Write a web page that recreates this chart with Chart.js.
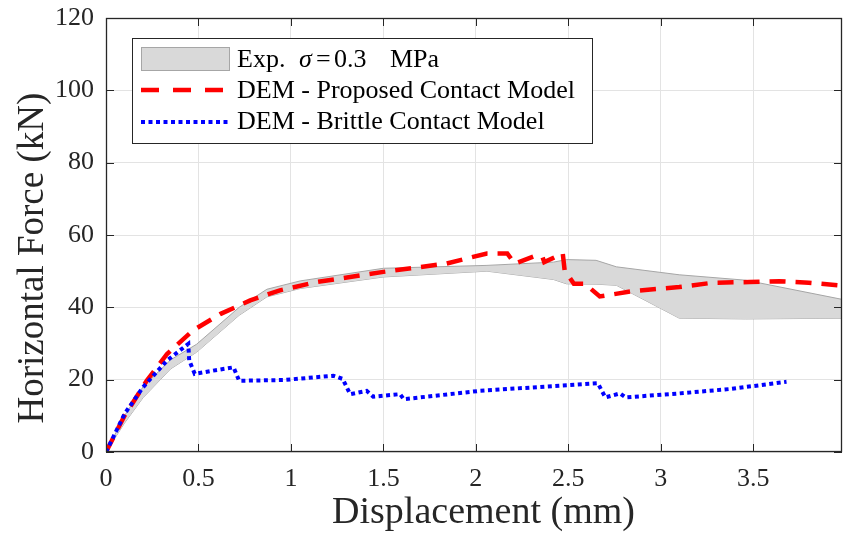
<!DOCTYPE html>
<html>
<head>
<meta charset="utf-8">
<script src="https://cdn.jsdelivr.net/npm/chart.js@4"></script>
<style>
  html,body{margin:0;padding:0;background:#fff;}
  #wrap{width:843px;height:536px;}
</style>
</head>
<body>
<div id="wrap"><canvas id="c" width="843" height="536"></canvas></div>
<script>
// experimental envelope (grey band)
const expX     = [0, 0.1, 0.2, 0.35, 0.49, 0.72, 0.87, 1.05, 1.5, 2.06, 2.42, 2.49, 2.65, 2.76, 3.1, 3.46, 4.0];
const expUpper = [0, 10, 18, 25.5, 29.8, 40, 45, 47.3, 50.8, 51.6, 52.5, 53.2, 53, 51.2, 49, 47.5, 42];
const expLower = [0, 8, 15, 23, 27.6, 37.8, 42.9, 45.2, 48.4, 50, 47.7, 46.5, 46.4, 46.1, 37, 36.8, 37];

// DEM - proposed contact model
const propX = [0, 0.1, 0.22, 0.33, 0.47, 0.62, 0.78, 0.94, 1.14, 1.32, 1.5, 1.84, 2.06, 2.17, 2.21, 2.31, 2.36, 2.37, 2.47, 2.48, 2.53, 2.59, 2.67, 2.85, 3.1, 3.28, 3.48, 3.64, 3.8, 4.0];
const propY = [0, 10, 19.7, 27.1, 33.6, 38.2, 41.9, 44.7, 47, 48.4, 49.8, 52.1, 54.9, 54.9, 52.1, 54, 54, 52.5, 54.9, 50.3, 46.5, 46.5, 43, 44.5, 45.6, 46.8, 47, 47.2, 46.8, 45.9];

// DEM - brittle contact model
const britX = [0, 0.1, 0.2, 0.33, 0.445, 0.45, 0.48, 0.58, 0.69, 0.72, 0.96, 1.23, 1.28, 1.32, 1.41, 1.445, 1.59, 1.61, 2.02, 2.38, 2.66, 2.70, 2.78, 2.81, 3.1, 3.37, 3.68];
const britY = [0, 10.5, 17.9, 25.3, 29.9, 25.3, 21.6, 22.5, 23.4, 19.7, 19.9, 21.1, 20.2, 16, 16.9, 15.3, 16, 14.6, 16.9, 18.1, 19, 15.1, 16.2, 15.1, 16.2, 17.4, 19.4];

const xTicks = [0, 0.5, 1, 1.5, 2, 2.5, 3, 3.5];
const yTicks = [0, 20, 40, 60, 80, 100, 120];

const pts = (xs, ys) => xs.map((x, i) => ({x, y: ys[i]}));
const SERIF = '"Liberation Serif", "Times New Roman", serif';
const AX = '#262626';

// box around plot + inward ticks, like matlab
const framePlugin = {
  id: 'frame',
  afterDraw(chart){
    const {ctx, chartArea: a, scales} = chart;
    ctx.save();
    ctx.strokeStyle = AX;
    ctx.lineWidth = 1;
    ctx.beginPath();
    xTicks.forEach(v => {
      const p = Math.round(scales.x.getPixelForValue(v)) + 0.5;
      ctx.moveTo(p, a.bottom); ctx.lineTo(p, a.bottom - 8);
      ctx.moveTo(p, a.top); ctx.lineTo(p, a.top + 8);
    });
    yTicks.forEach(v => {
      const p = Math.round(scales.y.getPixelForValue(v)) + 0.5;
      ctx.moveTo(a.left, p); ctx.lineTo(a.left + 8, p);
      ctx.moveTo(a.right, p); ctx.lineTo(a.right - 8, p);
    });
    ctx.stroke();
    ctx.lineWidth = 1.3;
    ctx.strokeRect(a.left + 0.5, a.top + 0.5, a.right - a.left - 1, a.bottom - a.top - 1);
    ctx.restore();
  }
};

// legend box drawn by hand so the line samples look right
const legendPlugin = {
  id: 'mlegend',
  afterDraw(chart){
    const ctx = chart.ctx;
    const bx = 132, by = 38, bw = 460, bh = 105;
    ctx.save();
    ctx.fillStyle = '#fff';
    ctx.fillRect(bx, by, bw, bh);
    ctx.strokeStyle = AX;
    ctx.lineWidth = 1;
    ctx.strokeRect(bx + 0.5, by + 0.5, bw, bh);

    ctx.fillStyle = '#d9d9d9';
    ctx.strokeStyle = '#a6a6a6';
    ctx.fillRect(141, 47, 88, 23);
    ctx.strokeRect(141.5, 47.5, 88, 23);

    ctx.lineWidth = 4.5;
    ctx.strokeStyle = '#ff0000';
    ctx.setLineDash([18, 14]);
    ctx.beginPath(); ctx.moveTo(141, 90); ctx.lineTo(229, 90); ctx.stroke();

    ctx.lineWidth = 4;
    ctx.strokeStyle = '#0000ff';
    ctx.setLineDash([4, 3.5]);
    ctx.beginPath(); ctx.moveTo(141, 122); ctx.lineTo(229, 122); ctx.stroke();
    ctx.setLineDash([]);

    ctx.fillStyle = '#000';
    ctx.textBaseline = 'middle';
    ctx.font = '26px ' + SERIF;
    ctx.fillText('Exp.', 237, 60);
    ctx.font = 'italic 26px ' + SERIF;
    ctx.fillText('\u03C3', 299, 60);
    ctx.font = '26px ' + SERIF;
    ctx.fillText('=', 316, 60);
    ctx.fillText('0.3', 334, 60);
    ctx.fillText('MPa', 390, 60);
    ctx.fillText('DEM - Proposed Contact Model', 237, 91);
    ctx.fillText('DEM - Brittle Contact Model', 237, 122);
    ctx.restore();
  }
};

const ctx = document.getElementById('c').getContext('2d');
new Chart(ctx, {
  type: 'line',
  data: {
    datasets: [
      {label:'Exp. upper', data: pts(expX, expUpper), fill: 1, backgroundColor:'#d9d9d9', borderColor:'#a6a6a6', borderWidth:1, pointRadius:0, order:3},
      {label:'Exp. lower', data: pts(expX, expLower), fill: false, borderColor:'#a6a6a6', borderWidth:1, pointRadius:0, order:4},
      {label:'DEM - Proposed Contact Model', data: pts(propX, propY), borderColor:'#ff0000', borderWidth:4.5, borderDash:[16,10], pointRadius:0, fill:false, order:1},
      {label:'DEM - Brittle Contact Model', data: pts(britX, britY), borderColor:'#0000ff', borderWidth:4, borderDash:[4,3.5], pointRadius:0, fill:false, order:0}
    ]
  },
  options: {
    responsive: false,
    animation: false,
    layout: {padding: {top: 18, right: 1, left: 0, bottom: 0}},
    plugins: {legend: {display: false}, tooltip: {enabled: false}},
    elements: {line: {tension: 0}},
    scales: {
      x: {
        type: 'linear', min: 0, max: 3.98,
        afterBuildTicks: s => { s.ticks = xTicks.map(v => ({value: v})); },
        afterFit: s => { s.height = 84; s.paddingLeft = 0; s.paddingRight = 0; },
        grid: {color: '#e3e3e3', drawTicks: false},
        border: {display: false},
        ticks: {color: AX, font: {family: SERIF, size: 26}, padding: 12, maxRotation: 0,
          callback: v => String(v)},
        title: {display: true, text: '  Displacement (mm)', color: AX, font: {family: SERIF, size: 38}, padding: {top: 0, bottom: 0}}
      },
      y: {
        min: 0, max: 120,
        afterBuildTicks: s => { s.ticks = yTicks.map(v => ({value: v})); },
        afterFit: s => { s.width = 106; s.paddingTop = 0; s.paddingBottom = 0; },
        grid: {color: '#e3e3e3', drawTicks: false},
        border: {display: false},
        ticks: {color: AX, font: {family: SERIF, size: 26}, padding: 12},
        title: {display: true, text: 'Horizontal Force (kN)     ', color: AX, font: {family: SERIF, size: 37}, padding: {top: 11, bottom: 0}}
      }
    }
  },
  plugins: [framePlugin, legendPlugin]
});
</script>
</body>
</html>
